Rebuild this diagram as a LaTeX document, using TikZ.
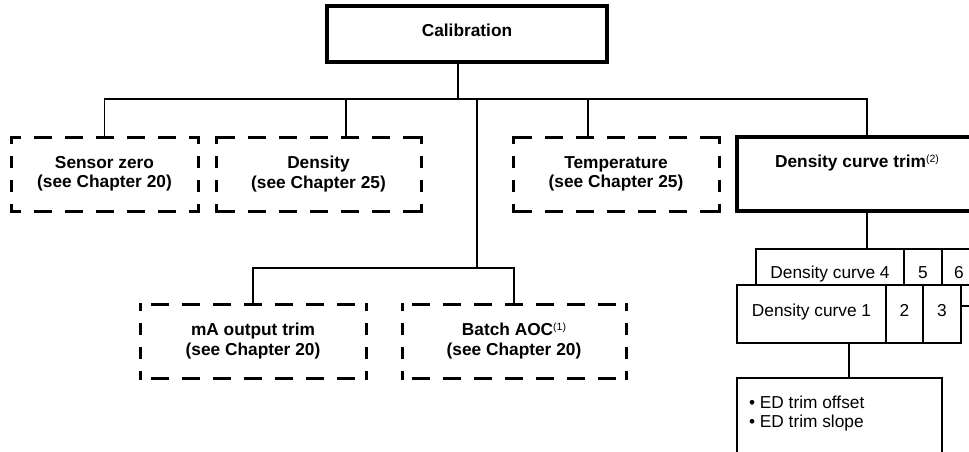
\documentclass[tikz,border=0pt]{standalone}
\usepackage{fontspec}
\setmainfont{Liberation Sans}
\newcommand\supnote[1]{\raisebox{5pt}{\mdseries\fontsize{10.5}{11}\selectfont(#1)}}
\newcommand\mydashframe[1]{%
  \draw[dh] (#1.north) -- (#1.north west); \draw[dh] (#1.north) -- (#1.north east);
  \draw[dh] (#1.south) -- (#1.south west); \draw[dh] (#1.south) -- (#1.south east);
  \draw[dv] (#1.west) -- (#1.north west);  \draw[dv] (#1.west) -- (#1.south west);
  \draw[dv] (#1.east) -- (#1.north east);  \draw[dv] (#1.east) -- (#1.south east);}
\begin{document}
\begin{tikzpicture}[x=1pt,y=-1pt,
  every node/.style={inner sep=0pt, outer sep=0pt, font=\fontsize{17.3}{19.5}\selectfont},
  heavybox/.style={draw, rectangle, line width=3.3pt, line join=miter},
  dbox/.style={rectangle, align=center, font=\fontsize{17.3}{19.5}\selectfont\bfseries},
  dh/.style={line width=3pt, line cap=rect, dash pattern=on 15pt off 16pt, dash phase=7.5pt},
  dv/.style={line width=3pt, line cap=rect, dash pattern=on 9.5pt off 14.5pt, dash phase=16.75pt},
  conn/.style={line width=1.6pt},
  cell/.style={draw, rectangle, line width=1.5pt, fill=white},
  boldtxt/.style={font=\fontsize{17.3}{19.5}\selectfont\bfseries}
]
\clip (0,0) rectangle (969,452);

% top box
\node[heavybox, boldtxt, minimum width=280pt, minimum height=56pt, text depth=7.2pt] (cal) at (467,34) {Calibration};

% first level
\node[dbox, minimum width=187pt, minimum height=74pt] (sz) at (104.5,174) {Sensor zero\\(see Chapter 20)};
\node[dbox, minimum width=205pt, minimum height=74pt] (den) at (318.5,174) {Density\\(see Chapter 25)};
\node[dbox, minimum width=206pt, minimum height=74pt] (tmp) at (616,174) {Temperature\\(see Chapter 25)};
\node[heavybox, minimum width=240pt, minimum height=74pt] (dct) at (857,174) {};
\node[boldtxt, anchor=base] (dctt) at (857,167) {Density curve trim\supnote{2}};

% second level
\node[dbox, minimum width=226pt, minimum height=74pt] (ma) at (253,341) {mA output trim\\(see Chapter 20)};
\node[dbox, minimum width=224pt, minimum height=74pt] (bat) at (514,341) {Batch AOC\supnote{1}\\(see Chapter 20)};

% density curve stack (back row)
\node[cell, minimum width=148pt, minimum height=36pt] (dc4) at (830,267) {};
\node[cell, minimum width=38pt, minimum height=36pt] (c5) at (923,267) {};
\node[cell, minimum width=38pt, minimum height=36pt] (c6) at (961,267) {};
\node[anchor=base] (t4) at (830,278) {Density curve 4};
\node[anchor=base] (t5) at (923,278) {5};
\node[anchor=base] (t6) at (959,278) {6};
% front row
\node[cell, minimum width=149pt, minimum height=58pt] (dc1) at (811.5,314) {};
\node[cell, minimum width=37pt, minimum height=58pt] (c2) at (904.5,314) {};
\node[cell, minimum width=38pt, minimum height=58pt] (c3) at (942,314) {};
\node[anchor=base] (t1) at (811.5,316) {Density curve 1};
\node[anchor=base] (t2) at (904.5,316) {2};
\node[anchor=base] (t3) at (942,316) {3};
\draw[line width=1.5pt] ([yshift=8pt]c3.east) -- ++(20,0);

% ED trim box
\node[cell, anchor=north west, minimum width=205pt, minimum height=100pt] (ed) at (737,378) {};
\node[anchor=base west] (e1) at (749,408) {• ED trim offset};
\node[anchor=base west] (e2) at (749,427) {• ED trim slope};

% dashed frames
\mydashframe{sz}
\mydashframe{den}
\mydashframe{tmp}
\mydashframe{ma}
\mydashframe{bat}

% connectors
\coordinate (j0) at (458,99);
\coordinate (jR) at (867,99);
\coordinate (jD) at (346,99);
\coordinate (jT) at (588,99);
\coordinate (jB) at (477,99);
\coordinate (jB2) at (477,268);
\coordinate (jE) at (849,343);
\draw[conn] (cal.south -| j0) -- (j0);
\draw[conn] (sz.north) -- (sz.north |- j0) -- (jR) -- (jR |- dct.north);
\draw[conn] (jD) -- (jD |- den.north);
\draw[conn] (jT) -- (jT |- tmp.north);
\draw[conn] (jB) -- (jB2);
\draw[conn] (ma.north) -- (ma.north |- jB2) -- (bat.north |- jB2) -- (bat.north);
\draw[conn] (dct.south -| jR) -- (dc4.north -| jR);
\draw[conn] (jE) -- (ed.north -| jE);
\end{tikzpicture}
\end{document}
